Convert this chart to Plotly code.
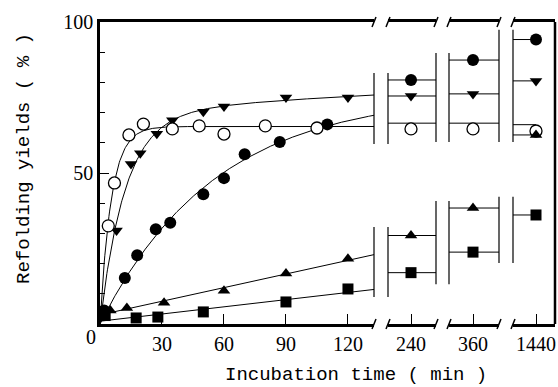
import numpy as np
import plotly.graph_objects as go

# ---------------- data ----------------
t_open = [4, 7, 14, 21, 35, 48, 60, 80, 105]
v_open = [32.5, 46.7, 62.6, 66.2, 64.6, 65.6, 62.9, 65.6, 64.9]

t_fill = [2, 12, 18, 27, 34, 50, 60, 70, 87, 110]
v_fill = [4.5, 15.2, 22.8, 31.4, 33.5, 43.0, 48.3, 56.2, 60.3, 66.1]

t_down = [8, 15, 19.5, 27.5, 35, 50, 60, 90, 120]
v_down = [31.0, 53.0, 56.5, 63.0, 67.5, 70.3, 72.0, 75.0, 75.0]

t_up = [5, 13, 31, 60, 90, 120]
v_up = [4.5, 5.3, 7.0, 11.0, 16.7, 21.6]

t_sq = [2.5, 17.5, 28, 50, 90, 120]
v_sq = [2.8, 2.0, 2.3, 4.0, 7.3, 11.6]

late_times = [240, 360, 1440]
late_labels = ["240", "360", "1440"]
fill_late = [80.8, 87.4, 94.2]
down_late = [75.5, 76.2, 80.5]
open_late = [64.6, 64.6, 63.9]
open_level_late = [66.5, 66.5, 66.0]
up_late = [29.3, 38.4, 62.6]
sq_late = [17.0, 23.8, 36.1]

# break bars between panels: (upper bottom, upper top, lower bottom, lower top)
break_bars = [(59.6, 83.1, 8.9, 32.1), (60.3, 89.7, 13.2, 40.7), (60.3, 97.4, 20.2, 42.1)]

main_ticks = [30, 60, 90, 120]
y_ticks = [50, 100]

# ---------------- fits ----------------
def fit_exp(t, v):
    t = np.asarray(t, float); v = np.asarray(v, float)
    best = None
    for k in np.linspace(0.001, 1.0, 3000):
        b = 1 - np.exp(-k * t)
        A = (b @ v) / (b @ b)
        e = ((A * b - v) ** 2).sum()
        if best is None or e < best[0]:
            best = (e, A, k)
    return best[1], best[2]

def fit_biexp(t, v):
    t = np.asarray(t, float); v = np.asarray(v, float)
    best = None
    ks = np.logspace(-3, 0, 150)
    for i, k1 in enumerate(ks):
        for k2 in ks[:i]:
            B = np.column_stack([1 - np.exp(-k1 * t), 1 - np.exp(-k2 * t)])
            A, *_ = np.linalg.lstsq(B, v, rcond=None)
            if (A < 0).any():
                continue
            e = ((B @ A - v) ** 2).sum()
            if best is None or e < best[0]:
                best = (e, A, k1, k2)
    return best[1], best[2], best[3]

# ---------------- layout geometry ----------------
W, H = 558, 387
ML, MR, MT, MB = 100, 3, 22, 63
PW = W - ML - MR

def dom(px):
    return (px - ML) / PW

main_range = [0, 132.6]
dom_main = [0, dom(374)]
seg_doms = [[dom(388), dom(436)], [dom(449), dom(499)], [dom(513), 1.0]]
seg_ranges = [[217, 265], [336, 386], [1417, 1459]]

tt = np.linspace(main_range[0], main_range[1], 400)
A_o, k_o = fit_exp(t_open, v_open)
A_f, k_f = fit_exp(t_fill, v_fill)
Ad, kd1, kd2 = fit_biexp(t_down, v_down)
pu = np.polyfit(t_up, v_up, 1)
ps = np.polyfit(t_sq, v_sq, 1)

curves = {
    "open": A_o * (1 - np.exp(-k_o * tt)),
    "fill": A_f * (1 - np.exp(-k_f * tt)),
    "down": Ad[0] * (1 - np.exp(-kd1 * tt)) + Ad[1] * (1 - np.exp(-kd2 * tt)),
    "up": np.polyval(pu, tt),
    "sq": np.polyval(ps, tt),
}

fig = go.Figure()
LINE = dict(color="black", width=1)

series = [
    ("fill", t_fill, v_fill, fill_late, fill_late, dict(symbol="circle", size=12, color="black")),
    ("down", t_down, v_down, down_late, down_late, dict(symbol="triangle-down", size=11, color="black")),
    ("open", t_open, v_open, open_late, open_level_late,
     dict(symbol="circle", size=12, color="white", line=dict(color="black", width=1.3))),
    ("up", t_up, v_up, up_late, up_late, dict(symbol="triangle-up", size=11, color="black")),
    ("sq", t_sq, v_sq, sq_late, sq_late, dict(symbol="square", size=11, color="black")),
]

xa_names = ["x2", "x3", "x4"]
for name, tx, vy, late, level, mk in series:
    fig.add_trace(go.Scatter(x=tt, y=curves[name], mode="lines", line=LINE,
                             xaxis="x", yaxis="y", showlegend=False, hoverinfo="skip"))
    for i, xa in enumerate(xa_names):
        r = seg_ranges[i]
        xend = r[1] if i < 2 else late_times[i]
        fig.add_trace(go.Scatter(x=[r[0], xend], y=[level[i], level[i]], mode="lines",
                                 line=LINE, xaxis=xa, yaxis="y", showlegend=False,
                                 hoverinfo="skip"))
    fig.add_trace(go.Scatter(x=tx, y=vy, mode="markers", marker=mk, cliponaxis=False,
                             xaxis="x", yaxis="y", showlegend=False))
    for i, xa in enumerate(xa_names):
        fig.add_trace(go.Scatter(x=[late_times[i]], y=[late[i]], mode="markers", marker=mk,
                                 cliponaxis=False, xaxis=xa, yaxis="y", showlegend=False))

TICKFONT = dict(family="Liberation Serif", size=20, color="black")
TITLEFONT = dict(family="Liberation Mono", size=19, color="black")

def xaxis_common(domain, rng, tickvals, ticktext):
    return dict(domain=domain, range=rng, anchor="y", showline=True, linewidth=2.5,
                linecolor="black", mirror=True, ticks="inside", ticklen=10, tickwidth=1.2,
                tickcolor="black", tickvals=tickvals, ticktext=ticktext, tickfont=TICKFONT,
                showgrid=False, zeroline=False, fixedrange=True)

layout = dict(
    width=W, height=H, margin=dict(l=ML, r=MR, t=MT, b=MB),
    paper_bgcolor="white", plot_bgcolor="white",
    xaxis=xaxis_common(dom_main, main_range, main_ticks, [str(v) for v in main_ticks]),
    yaxis=dict(range=[0, 100], domain=[0, 1], anchor="x", showline=True, linewidth=2.5,
               linecolor="black", ticks="inside", ticklen=9, tickwidth=1.2, tickcolor="black",
               tickvals=y_ticks, ticktext=[str(v) for v in y_ticks], tickfont=TICKFONT,
               minor=dict(dtick=10, tick0=0, ticks="inside", ticklen=5, tickwidth=1,
                          tickcolor="black"),
               showgrid=False, zeroline=False, fixedrange=True),
)
for i, xa in enumerate(xa_names):
    layout["xaxis" + xa[1:]] = xaxis_common(seg_doms[i], seg_ranges[i], [late_times[i]],
                                             [late_labels[i]])
fig.update_layout(**layout)

shapes = []
# break slashes at panel ends (top and bottom)
ends = [("x domain", 1)]
for xa in xa_names:
    ends.append((xa + " domain", 0))
    if xa != "x4":
        ends.append((xa + " domain", 1))
for xref, xv in ends:
    for yv in (0, 1):
        shapes.append(dict(type="line", xref=xref, yref="y domain", xsizemode="pixel",
                           ysizemode="pixel", xanchor=xv, yanchor=yv,
                           x0=-2, x1=2, y0=-5, y1=5, line=dict(color="black", width=1.5)))
# vertical break bars
gap_edges = [(("x domain", 1), ("x2 domain", 0)),
             (("x2 domain", 1), ("x3 domain", 0)),
             (("x3 domain", 1), ("x4 domain", 0))]
for (left, right), bars in zip(gap_edges, break_bars):
    for xref, xv in (left, right):
        for y0, y1 in ((bars[0], bars[1]), (bars[2], bars[3])):
            shapes.append(dict(type="line", xref=xref, yref="y", x0=xv, x1=xv, y0=y0, y1=y1,
                               line=dict(color="black", width=1.2)))
# right border of last panel
shapes.append(dict(type="line", xref="x4 domain", yref="y domain", x0=1, x1=1, y0=0, y1=1,
                   line=dict(color="black", width=2.5)))
fig.update_layout(shapes=shapes)

fig.add_annotation(text="0", xref="x", x=0, xshift=-9, yref="paper", y=-0.043,
                   showarrow=False, font=TICKFONT, xanchor="center", yanchor="middle")
fig.add_annotation(text="Refolding yields ( % )", textangle=-90, xref="paper",
                   x=dom(24), yref="paper", y=(324 - 159) / 302, showarrow=False,
                   font=TITLEFONT, xanchor="center", yanchor="middle")
fig.add_annotation(text="Incubation time ( min )", xref="paper", x=dom(356), yref="paper",
                   y=(324 - 375) / 302, showarrow=False, font=TITLEFONT,
                   xanchor="center", yanchor="middle")

fig.write_html("out.html", config={"displayModeBar": False},
               post_script="document.body.style.margin='0';document.body.style.padding='0';")
